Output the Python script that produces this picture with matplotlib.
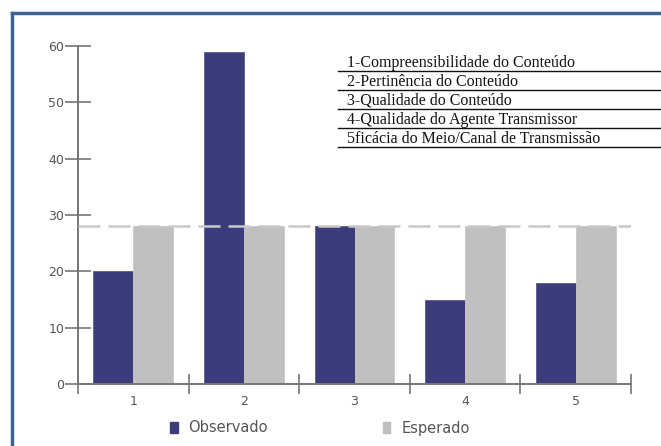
import matplotlib
matplotlib.use("Agg")
import matplotlib.pyplot as plt
from matplotlib.patches import Patch
from matplotlib.lines import Line2D
import numpy as np

categorias = ["1", "2", "3", "4", "5"]
observado = [20, 59, 28, 15, 18]
esperado = [28, 28, 28, 28, 28]
referencia = 28
legenda_itens = [
    "1-Compreensibilidade do Conteúdo",
    "2-Pertinência do Conteúdo",
    "3-Qualidade do Conteúdo",
    "4-Qualidade do Agente Transmissor",
    "5ficácia do Meio/Canal de Transmissão",
]

W, H = 661, 446
fig = plt.figure(figsize=(W / 100, H / 100), dpi=100)
ax = fig.add_axes([78 / W, 1 - 384 / H, (631 - 78) / W, (384 - 46) / H])

x = np.arange(len(categorias))
w = 0.36
ax.bar(x - w, observado, w, align="edge", color="#3d3c7a",
       edgecolor="#5a5a94", linewidth=0.6, zorder=2, label="Observado")
ax.bar(x, esperado, w, align="edge", color="#c0c0c0",
       edgecolor="#c8c8c8", linewidth=0.6, zorder=2, label="Esperado")
ax.axhline(referencia, color="#c8c8c8", lw=1.8, dashes=(8.8, 3.2), zorder=3)

ax.set_xlim(-0.5, len(categorias) - 0.5)
ax.set_ylim(0, 60)
ax.set_yticks(range(0, 61, 10))
ax.set_xticks(np.arange(len(categorias) + 1) - 0.5)
ax.set_xticklabels([])
ax.set_xticks(x, minor=True)
ax.set_xticklabels(categorias, minor=True)

for s in ["top", "right"]:
    ax.spines[s].set_visible(False)
for s in ["left", "bottom"]:
    ax.spines[s].set_color("#777777")
    ax.spines[s].set_linewidth(1.4)

ax.tick_params(axis="y", direction="inout", length=19, width=1.2,
               color="#777777", labelcolor="#555555", labelsize=9, pad=0.5)
ax.tick_params(axis="x", which="major", direction="inout", length=15,
               width=1.2, color="#777777")
ax.tick_params(axis="x", which="minor", length=0, labelcolor="#555555",
               labelsize=9, pad=8)

# legenda inferior
handles = [Patch(facecolor="#3d3c7a", edgecolor="#3d3c7a"),
           Patch(facecolor="#c0c0c0", edgecolor="#c0c0c0")]
fig.legend(handles, ["Observado", "Esperado"], loc="center",
           bbox_to_anchor=(320 / W, 1 - 428 / H), ncol=2, frameon=False,
           handlelength=0.5, handleheight=0.75, handletextpad=0.75,
           columnspacing=7.9, borderpad=0, borderaxespad=0,
           prop={"family": "DejaVu Sans", "size": 10.5},
           labelcolor="#555555")

# tabela de descricao das categorias
for i, txt in enumerate(legenda_itens):
    yl = 1 - (71 + 18.9 * i) / H
    fig.text(347 / W, yl + 4 / H, txt, family="Liberation Serif",
             fontsize=11.5, color="#111111", va="baseline", ha="left")
    fig.add_artist(Line2D([338 / W, 1.0], [yl, yl], color="#111111",
                          lw=1.0, transform=fig.transFigure))

# moldura azul (topo e esquerda)
fig.add_artist(Line2D([12 / W, 1.0], [1 - 12.5 / H, 1 - 12.5 / H],
                      color="#3d6594", lw=2.5, transform=fig.transFigure))
fig.add_artist(Line2D([12 / W, 12 / W], [0, 1 - 12.5 / H],
                      color="#3d6594", lw=2.5, transform=fig.transFigure))

fig.savefig("out.png", dpi=100)
